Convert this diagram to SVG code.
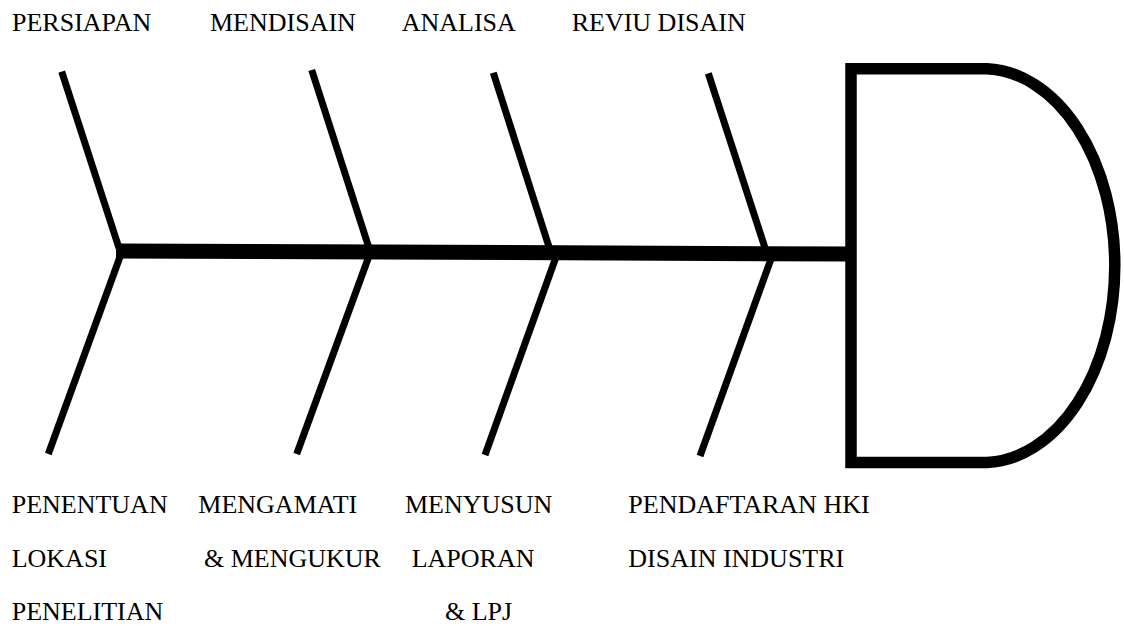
<svg xmlns="http://www.w3.org/2000/svg" width="1124" height="626" viewBox="0 0 1124 626">
<style>
  text { font-family: "Liberation Serif", "Times New Roman", serif; font-size: 26px; fill: #000; }
  .bone { stroke: #000; stroke-width: 7; fill: none; }
  .spine { stroke: #000; stroke-width: 15; fill: none; }
  .head { stroke: #000; stroke-width: 11.5; fill: #fff; }
</style>
<rect width="1124" height="626" fill="#fff"/>
<g id="connectors">
  <line class="spine" x1="116" y1="251" x2="852" y2="254"/>
  <line class="bone" x1="61.7" y1="71.7" x2="119" y2="248"/>
  <line class="bone" x1="121" y1="254" x2="48.3" y2="454"/>
  <line class="bone" x1="311.7" y1="70" x2="369" y2="248"/>
  <line class="bone" x1="369" y1="256" x2="296.7" y2="454"/>
  <line class="bone" x1="493.3" y1="72.7" x2="550" y2="250"/>
  <line class="bone" x1="556" y1="257" x2="485" y2="455"/>
  <line class="bone" x1="708.3" y1="73.3" x2="766" y2="251"/>
  <line class="bone" x1="771" y1="259" x2="700" y2="456"/>
</g>
<g id="head">
  <path class="head" d="M851 68.7 H987 A132 197 0 0 1 987 462.5 H851 Z"/>
</g>
<g id="top-labels">
  <text id="persiapan" x="12" y="31">PERSIAPAN</text>
  <text id="mendisain" x="210" y="31">MENDISAIN</text>
  <text id="analisa" x="401.7" y="31">ANALISA</text>
  <text id="reviu" x="571.7" y="31">REVIU DISAIN</text>
</g>
<g id="bottom-labels">
  <g id="penentuan">
    <text x="11.7" y="512.5">PENENTUAN</text>
    <text x="11.7" y="567">LOKASI</text>
    <text x="11.7" y="619.5">PENELITIAN</text>
  </g>
  <g id="mengamati">
    <text x="198.3" y="512.5">MENGAMATI</text>
    <text x="204" y="567">&amp; MENGUKUR</text>
  </g>
  <g id="menyusun">
    <text x="405" y="512.5">MENYUSUN</text>
    <text x="411.7" y="567">LAPORAN</text>
    <text x="445" y="619.5">&amp; LPJ</text>
  </g>
  <g id="pendaftaran">
    <text x="628.3" y="512.5">PENDAFTARAN HKI</text>
    <text x="628.3" y="567">DISAIN INDUSTRI</text>
  </g>
</g>
</svg>
